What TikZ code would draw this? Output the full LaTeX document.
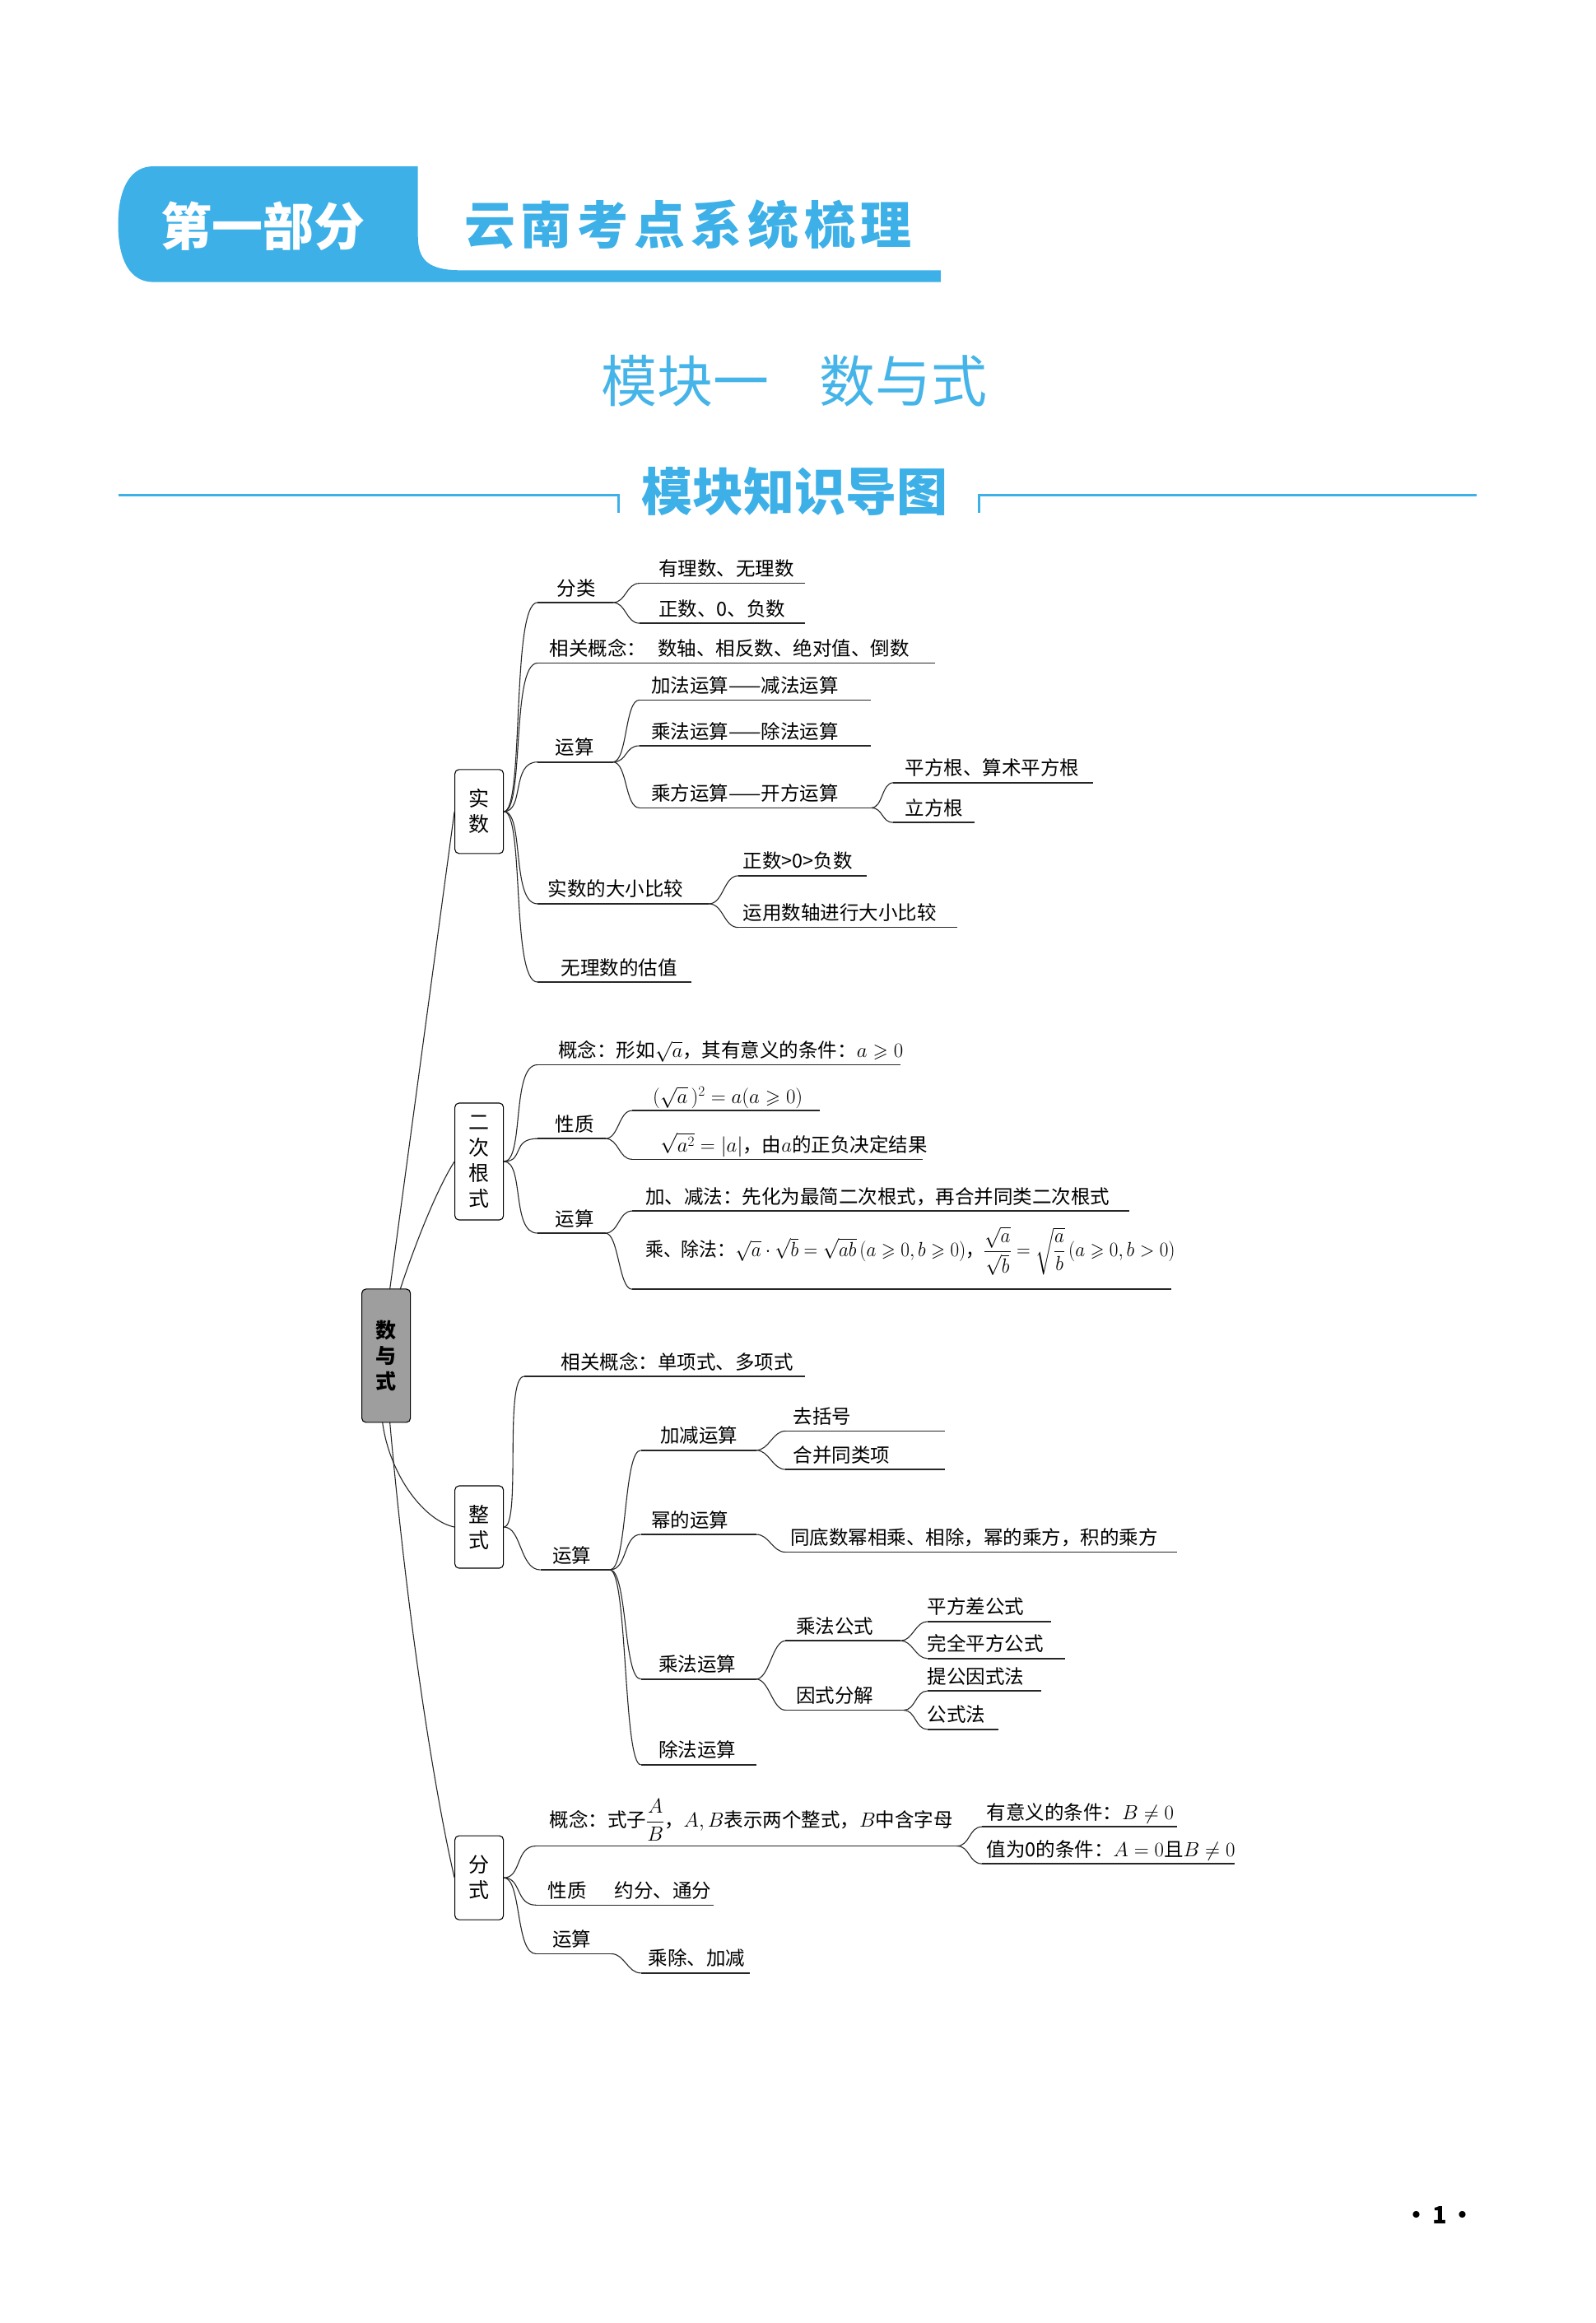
\documentclass[tikz,border=0pt]{standalone}
\usepackage{amsmath,amssymb,graphicx}
\usepackage{fontspec}
\setmainfont{Noto Sans CJK SC}
\newfontfamily\hdfont[LetterSpace=11]{Noto Sans CJK SC}
\definecolor{hb}{HTML}{3DB0E8}
\definecolor{tb}{HTML}{45B4E8}
\newcommand\fs{\fontsize{23.5pt}{29pt}\selectfont}
\tikzset{
  ln/.style={line width=1.1pt, black!85},
  ul/.style={line width=1.6pt, black!85},
  tx/.style={anchor=base west, inner sep=0pt, font=\fs},
  bx/.style={draw, line width=1.1pt, rounded corners=5pt, fill=white, minimum width=59pt, align=center, inner sep=0pt, font=\fontsize{25pt}{31pt}\selectfont},
}
\newcommand\lf[6]{\coordinate (#1a) at (#2,#4); \coordinate (#1b) at (#3,#4);
  \draw[ul] (#1a) -- (#1b); \node[tx] (#1) at (#5,#4-5) {#6};}
\newcommand\cn[3]{\draw[ln] (#1) .. controls +(#3,0) and +(-#3,0) .. (#2);}
\begin{document}
\begin{tikzpicture}[x=1.794pt,y=-1.794pt]
\useasboundingbox (0,0) rectangle (1080.27,1573);
\fill[white] (0,0) rectangle (1080.27,1573);
% header
\fill[hb] (104,112.6) -- (283,112.6) -- (283,160) .. controls (283,176) and (290,183) .. (312,183) -- (637,183) -- (637,191) -- (104,191) .. controls (88,191) and (80,176) .. (80,152) .. controls (80,128) and (88,112.6) .. (104,112.6) -- cycle;
\node[text=white, font=\fontsize{62pt}{66pt}\selectfont\bfseries, inner sep=0] (h1) at (178,153) {第一部分};
\node[text=hb, font=\hdfont\fontsize{62pt}{66pt}\selectfont\bfseries, inner sep=0] (h2) at (466,152) {云南考点系统梳理};
\node[text=tb, font=\fontsize{68pt}{72pt}\selectfont, inner sep=0] (t1) at (538,258) {模块一\hspace{0.9em}数与式};
\node[text=hb, font=\fontsize{62pt}{66pt}\selectfont\bfseries, inner sep=0] (t2) at (538,333) {模块知识导图};
\draw[hb, line width=3pt] (80,335) -- (419,335) -- (419,347);
\draw[hb, line width=3pt] (1000,335) -- (663,335) -- (663,347);
\node[font=\fontsize{29pt}{32pt}\selectfont\bfseries, inner sep=0] (pg) at (975,1500) {•\,1\,•};

% root
\node[bx, fill=black!38, minimum height=162pt, font=\fontsize{25pt}{31pt}\selectfont\bfseries] (root) at (261.5,918) {数\\与\\式};
\node[bx, minimum height=102pt] (s1) at (324.5,549.5) {实\\数};
\node[bx, minimum height=142pt] (s2) at (324.5,786.5) {二\\次\\根\\式};
\node[bx, minimum height=100pt] (s3) at (324.5,1034) {整\\式};
\node[bx, minimum height=102pt] (s4) at (324.5,1271.5) {分\\式};
\coordinate (rt1) at (264,873); \coordinate (rt2) at (271,873);
\coordinate (rb1) at (259,963); \coordinate (rb2) at (264,963);
\draw[ln] (rt1) -- (s1.west);
\draw[ln] (rt2) .. controls (282,840) and (296,805) .. (s2.west);
\draw[ln] (rb1) .. controls (264,1000) and (288,1030) .. (s3.west);
\draw[ln] (rb2) .. controls (278,1120) and (298,1230) .. (s4.west);

% 实数
\lf{fl}{364}{415}{408}{377}{分类}
\lf{yl}{433}{545}{395}{446}{有理数、无理数}
\lf{zf}{433}{545}{422}{446}{正数、0、负数}
\lf{xg}{364}{633}{449}{372}{相关概念：\hspace{0.6em}数轴、相反数、绝对值、倒数}
\lf{ys}{364}{415}{516}{376}{运算}
\lf{jf}{433}{590}{474}{441}{加法运算——减法运算}
\lf{cf}{433}{590}{505}{441}{乘法运算——除法运算}
\lf{cfk}{433}{590}{547}{441}{乘方运算——开方运算}
\lf{pf}{605}{740}{530}{613}{平方根、算术平方根}
\lf{lfg}{605}{660}{557}{613}{立方根}
\lf{dx}{364}{480}{612}{371}{实数的大小比较}
\lf{zs}{500}{587}{593}{503}{正数>0>负数}
\lf{yy}{500}{648}{628}{503}{运用数轴进行大小比较}
\lf{gz}{364}{468}{665}{380}{无理数的估值}
\foreach \t in {fla,xga,ysa,dxa,gza} {\draw[ln] (s1.east) .. controls +(14,0) and +(-18,0) .. (\t);}
\cn{flb}{yla}{9} \cn{flb}{zfa}{9}
\foreach \t in {jfa,cfa,cfka} {\cn{ysb}{\t}{10}}
\cn{cfkb}{pfa}{8} \cn{cfkb}{lfga}{8}
\cn{dxb}{zsa}{10} \cn{dxb}{yya}{10}

% 二次根式
\lf{gn}{364}{610}{721}{378}{概念：形如$\sqrt{a}$，其有意义的条件：$a\geqslant0$}
\lf{xz}{364}{410}{771}{376}{性质}
\lf{pa}{428}{555}{752}{442}{$(\sqrt{a}\,)^2=a(a\geqslant0)$}
\lf{pb}{428}{625}{785}{447}{$\sqrt{a^2}=|a|$，由$a$的正负决定结果}
\lf{ys2}{364}{410}{835}{376}{运算}
\lf{j2}{428}{765}{820}{437}{加、减法：先化为最简二次根式，再合并同类二次根式}
\coordinate (c2a) at (428,873); \coordinate (c2b) at (793,873);
\draw[ul] (c2a) -- (c2b);
\node[tx] (c2) at (437,851) {\scalebox{0.93}[1]{乘、除法：$\sqrt{a}\cdot\sqrt{b}=\sqrt{ab}\,(a\geqslant0,b\geqslant0)$，$\dfrac{\sqrt{a}}{\sqrt{b}}=\sqrt{\dfrac{a}{b}}\,(a\geqslant0,b>0)$}};
\foreach \t in {gna,xza,ys2a} {\draw[ln] (s2.east) .. controls +(14,0) and +(-18,0) .. (\t);}
\cn{xzb}{paa}{9} \cn{xzb}{pba}{9}
\cn{ys2b}{j2a}{9} \cn{ys2b}{c2a}{9}

% 整式
\lf{xg3}{355}{545}{932}{380}{相关概念：单项式、多项式}
\lf{ys3}{366}{413}{1063}{374}{运算}
\lf{jj}{434}{512}{982}{447}{加减运算}
\lf{qk}{532}{640}{969}{537}{去括号}
\lf{hbx}{532}{640}{995}{537}{合并同类项}
\lf{mi}{434}{512}{1039}{441}{幂的运算}
\lf{md}{532}{797}{1051}{535}{同底数幂相乘、相除，幂的乘方，积的乘方}
\lf{cy}{434}{512}{1137}{446}{乘法运算}
\lf{cg}{532}{610}{1111}{539}{乘法公式}
\lf{pc}{628}{712}{1098}{628}{平方差公式}
\lf{wq}{628}{721}{1123}{628}{完全平方公式}
\lf{ysf}{532}{612}{1158}{539}{因式分解}
\lf{tg}{628}{705}{1145}{628}{提公因式法}
\lf{gs}{628}{676}{1171}{628}{公式法}
\lf{cc}{434}{512}{1195}{446}{除法运算}
\foreach \t in {xg3a,ys3a} {\draw[ln] (s3.east) .. controls +(12,0) and +(-14,0) .. (\t);}
\foreach \t in {jja,mia,cya,cca} {\cn{ys3b}{\t}{12}}
\cn{jjb}{qka}{9} \cn{jjb}{hbxa}{9}
\cn{mib}{mda}{9}
\cn{cyb}{cga}{9} \cn{cyb}{ysfa}{9}
\cn{cgb}{pca}{8} \cn{cgb}{wqa}{8}
\cn{ysfb}{tga}{8} \cn{ysfb}{gsa}{8}

% 分式
\coordinate (g4a) at (363,1250); \coordinate (g4b) at (648,1250);
\draw[ul] (g4a) -- (g4b);
\node[tx] (g4) at (372,1237) {概念：式子$\dfrac{A}{B}$，$A,B$表示两个整式，$B$中含字母};
\lf{yy4}{665}{797}{1237}{668}{有意义的条件：$B\neq0$}
\lf{zw}{665}{836}{1262}{668}{值为0的条件：$A=0$且$B\neq0$}
\lf{xz4}{363}{483}{1290}{371}{性质\hspace{1.45em}约分、通分}
\lf{ys5}{363}{414}{1323}{374}{运算}
\lf{cj}{434}{508}{1336}{439}{乘除、加减}
\foreach \t in {g4a,xz4a,ys5a} {\draw[ln] (s4.east) .. controls +(12,0) and +(-14,0) .. (\t);}
\cn{g4b}{yy4a}{9} \cn{g4b}{zwa}{9}
\cn{ys5b}{cja}{9}
\end{tikzpicture}
\end{document}
